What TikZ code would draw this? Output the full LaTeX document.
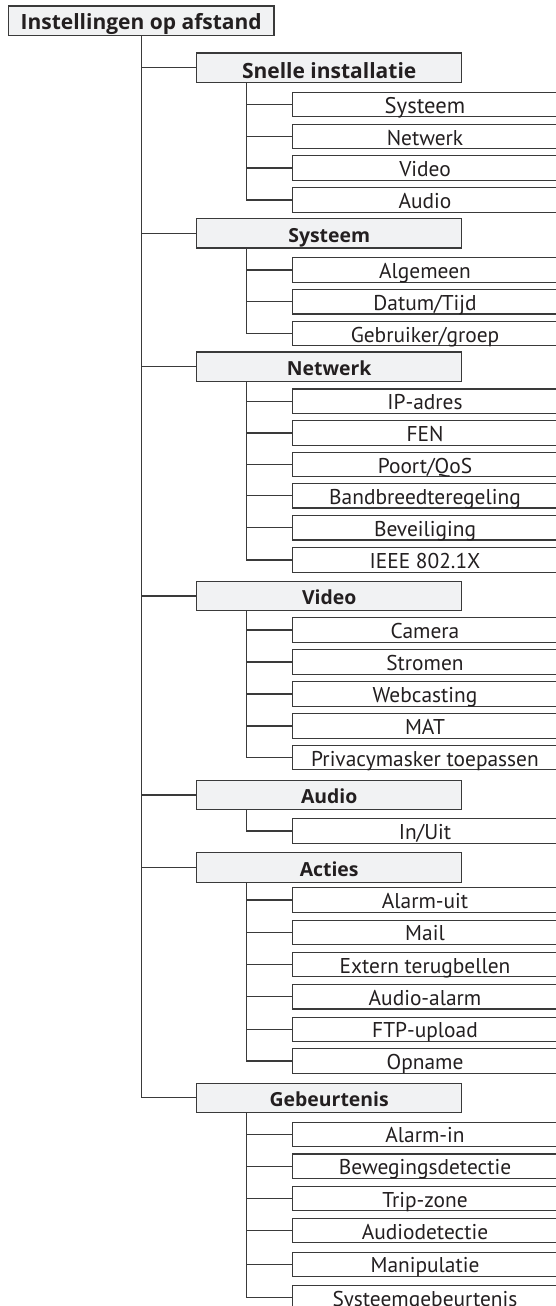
\documentclass[tikz,border=0pt]{standalone}
\usepackage{fontspec}
\setmainfont{PT Sans}
\newfontfamily\headfont{Open Sans}
\definecolor{ln}{HTML}{3A3A3A}
\definecolor{fillg}{HTML}{F1F2F3}
\definecolor{txt}{HTML}{231F20}
\begin{document}
\begin{tikzpicture}[x=1pt,y=-1pt,
  box/.style={draw=ln, line width=1.2pt, text=txt, inner sep=0pt, text depth=0pt, align=center},
  rootbox/.style={box, fill=fillg, minimum width=265.7pt, minimum height=29.7pt, font=\headfont\fontsize{21}{24}\selectfont\bfseries, text height=16.8pt},
  onebox/.style={box, fill=fillg, minimum width=265pt, minimum height=29.4pt, font=\headfont\fontsize{19.4}{21}\selectfont\bfseries, text height=17.6pt},
  bigonebox/.style={onebox, font=\headfont\fontsize{21}{24}\selectfont\bfseries, text height=20.5pt},
  twobox/.style={box, fill=white, minimum width=264.6pt, minimum height=24.4pt, font=\fontsize{21.4}{23}\selectfont, text height=17.2pt},
  bigtwobox/.style={twobox, font=\fontsize{22.6}{24}\selectfont},
  conn/.style={draw=ln, line width=1.2pt}]
\path[use as bounding box] (0,0) rectangle (556,1306);
\clip (0,0) rectangle (556,1306);
% root
\node[rootbox] (root) at (141.2,20.9) {Instellingen op afstand};
% level 1
\node[bigonebox] (snel) at (329.2,67.8) {Snelle installatie};
\node[onebox] (sys) at (329.2,233.2) {Systeem};
\node[onebox] (net) at (329.2,366.6) {Netwerk};
\node[onebox] (vid) at (329.2,596) {Video};
\node[onebox] (aud) at (329.2,795) {Audio};
\node[onebox] (act) at (329.2,867.5) {Acties};
\node[onebox] (gbt) at (329.2,1097.8) {Gebeurtenis};
% level 2: Snelle installatie
\node[bigtwobox] (s1) at (425,104.5) {Systeem};
\node[twobox] (s2) at (425,136.5) {Netwerk};
\node[twobox] (s3) at (425,168) {Video};
\node[twobox] (s4) at (425,200) {Audio};
% Systeem
\node[twobox] (y1) at (425,270) {Algemeen};
\node[twobox] (y2) at (425,301.8) {Datum/Tijd};
\node[twobox] (y3) at (425,333.6) {Gebruiker/groep};
% Netwerk
\node[twobox] (n1) at (425,401.2) {IP-adres};
\node[twobox] (n2) at (425,433) {FEN};
\node[twobox] (n3) at (425,464.4) {Poort/QoS};
\node[twobox] (n4) at (425,495.8) {Bandbreedteregeling};
\node[twobox] (n5) at (425,527.8) {Beveiliging};
\node[twobox] (n6) at (425,560) {IEEE 802.1X};
% Video
\node[twobox] (v1) at (425,630) {Camera};
\node[twobox] (v2) at (425,662) {Stromen};
\node[twobox] (v3) at (425,694) {Webcasting};
\node[twobox] (v4) at (425,726) {MAT};
\node[twobox] (v5) at (425,757.5) {Privacymasker toepassen};
% Audio
\node[twobox] (a1) at (425,831) {In/Uit};
% Acties
\node[twobox] (c1) at (425,900) {Alarm-uit};
\node[twobox] (c2) at (425,932.3) {Mail};
\node[twobox] (c3) at (425,964.4) {Extern terugbellen};
\node[twobox] (c4) at (425,996.7) {Audio-alarm};
\node[twobox] (c5) at (425,1029.3) {FTP-upload};
\node[twobox] (c6) at (425,1061) {Opname};
% Gebeurtenis
\node[twobox] (g1) at (425,1134.3) {Alarm-in};
\node[twobox] (g2) at (425,1166.2) {Bewegingsdetectie};
\node[twobox] (g3) at (425,1198.6) {Trip-zone};
\node[twobox] (g4) at (425,1230.6) {Audiodetectie};
\node[twobox] (g5) at (425,1264.3) {Manipulatie};
\node[twobox] (g6) at (425,1297.6) {Systeemgebeurtenis};
% main trunk
\draw[conn] (root.south) |- (gbt.west);
\foreach \n in {snel,sys,net,vid,aud,act}
  \draw[conn] (root.south |- \n.west) -- (\n.west);
% sub trunks
\foreach \p/\last/\others in {snel/s4/{s1,s2,s3}, sys/y3/{y1,y2}, net/n6/{n1,n2,n3,n4,n5}, vid/v5/{v1,v2,v3,v4}, act/c6/{c1,c2,c3,c4,c5}, gbt/g6/{g1,g2,g3,g4,g5}}{
  \coordinate (\p T) at ([xshift=50pt]\p.south west);
  \draw[conn] (\p T) |- (\last.west);
  \foreach \c in \others
    \draw[conn] (\p T |- \c.west) -- (\c.west);
}
\coordinate (audT) at ([xshift=50pt]aud.south west);
\draw[conn] (audT) |- (a1.west);
\end{tikzpicture}
\end{document}
